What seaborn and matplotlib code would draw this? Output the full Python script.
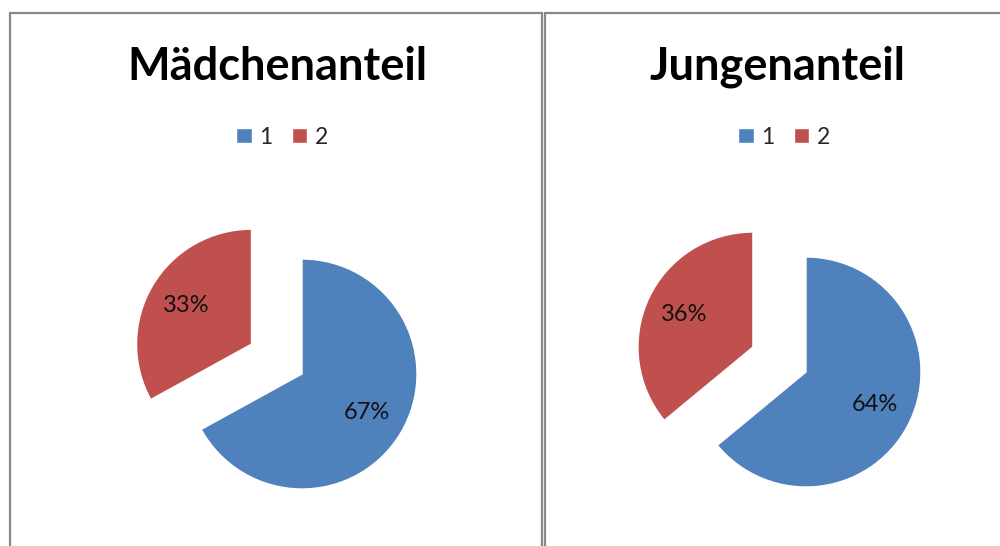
import matplotlib
matplotlib.use('Agg')
import matplotlib.pyplot as plt
from matplotlib.patches import Rectangle
import seaborn as sns

# Data
titles = ['Mädchenanteil', 'Jungenanteil']
categories = ['1', '2']
girls_share = [67, 33]
boys_share = [64, 36]
shares = [girls_share, boys_share]

colors = ['#4F81BD', '#C0504D']

sns.set_theme(style='white')
plt.rcParams['font.family'] = ['Lato', 'DejaVu Sans']

W, H = 1000, 546
fig = plt.figure(figsize=(W / 100, H / 100), dpi=100)
fig.patch.set_facecolor('white')


def fx(x):
    return x / W


def fy(y):
    return 1 - y / H


# Panel frames (pixel coordinates: left, right, top)
frames = [(9.6, 542, 13), (544.6, 1012, 13)]
for left, right, top in frames:
    fig.add_artist(Rectangle((fx(left), -0.05), fx(right) - fx(left), fy(top) + 0.05,
                             transform=fig.transFigure, fill=False,
                             edgecolor='#888888', linewidth=1.6))

# layout per panel: title center x, legend center x, pie center (x, y)
title_x = [277, 777]
legend_x = [282, 784]
pie_centers = [(302, 374), (806, 372)]
radius = 115
half = 200

for i in range(2):
    cx, cy = pie_centers[i]
    ax = fig.add_axes([fx(cx - half), fy(cy + half), fx(2 * half), 2 * half / H])
    wedges, texts, autotexts = ax.pie(
        shares[i], colors=colors, startangle=90, counterclock=False,
        explode=[0, 0.51], autopct='%1.0f%%', pctdistance=0.66,
        textprops={'fontsize': 17, 'color': '#111111'})
    ax.set_xlim(-half / radius, half / radius)
    ax.set_ylim(-half / radius, half / radius)
    ax.set_aspect('equal')
    ax.axis('off')

    fig.text(fx(title_x[i]), fy(80), titles[i], ha='center', va='baseline',
             fontsize=32.5, fontweight='bold', color='black')

    ax.legend(wedges, categories, loc='center', ncol=2, frameon=False,
              bbox_to_anchor=(fx(legend_x[i]), fy(137)), bbox_transform=fig.transFigure,
              fontsize=16.5, handlelength=0.68, handleheight=0.68,
              handletextpad=0.32, columnspacing=0.85, borderpad=0)

fig.savefig('out.png', dpi=100, facecolor='white')
